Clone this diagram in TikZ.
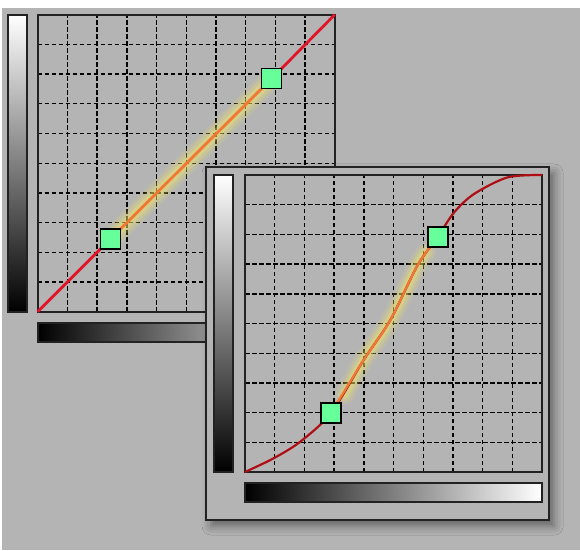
\documentclass[tikz,border=0pt]{standalone}
\usetikzlibrary{shadows.blur}
\definecolor{bggray}{RGB}{180,180,180}
\definecolor{framegray}{RGB}{34,34,34}
\definecolor{linered}{RGB}{225,20,40}
\definecolor{darkred}{RGB}{175,15,20}
\definecolor{curveorange}{RGB}{240,120,50}
\definecolor{glowyellow}{RGB}{245,235,100}
\definecolor{knotgreen}{RGB}{102,255,153}

\begin{document}
\begin{tikzpicture}[x=1pt, y=1pt,
  gridline/.style={black, line width=1.4pt, dash pattern=on 4.5pt off 2.5pt},
  gridframe/.style={framegray, line width=1.8pt},
  knot/.style={rectangle, draw=black, line width=1.5pt, fill=knotgreen,
    minimum size=20pt, inner sep=0pt},
  glow/.style={glowyellow, line cap=round}]
  \useasboundingbox (0,0) rectangle (580,550);
  \fill[white] (0,0) rectangle (580,550);
  \fill[bggray] (2,0) rectangle (580,542);

  % 第一个窗口：直线
  \begin{scope}[shift={(37.7pt,238.3pt)}, x=29.7pt, y=29.7pt]
    \shade[top color=white, bottom color=black] (-1.01,0) rectangle (-0.37,10);
    \draw[gridframe] (-1.01,0) rectangle (-0.37,10);
    \shade[left color=black, right color=white] (0,-1.01) rectangle (10,-0.37);
    \draw[gridframe] (0,-1.01) rectangle (10,-0.37);
    \foreach \i in {1,...,9} {
      \draw[gridline] (\i,0) -- (\i,10);
      \draw[gridline] (0,\i) -- (10,\i);
    }
    \draw[gridframe] (0,0) rectangle (10,10);

    \coordinate (a0) at (0,0);
    \coordinate (a1) at (10,10);
    \coordinate (ka) at (2.45,2.45);
    \coordinate (kb) at (7.88,7.85);
    % 光晕
    \foreach \w/\o in {21/0.14, 15/0.2, 9/0.3}
      \draw[glow, line width=\w pt, opacity=\o, shorten <=8pt, shorten >=8pt] (ka) -- (kb);
    \draw[linered, line width=2.8pt] (a0) -- (ka);
    \draw[linered, line width=2.8pt] (kb) -- (a1);
    \draw[curveorange, line width=2.8pt] (ka) -- (kb);
    \node[knot] (kna) at (ka) {};
    \node[knot] (knb) at (kb) {};
  \end{scope}

  % 第二个窗口：S 形曲线
  \begin{scope}[shift={(245pt,78pt)}, x=29.7pt, y=29.7pt]
    \draw[framegray, line width=2pt, fill=bggray,
      blur shadow={shadow xshift=5pt, shadow yshift=-6pt,
        shadow blur radius=9pt, shadow opacity=45}]
      (-1.31,-1.62) rectangle (10.24,10.27);
    \shade[top color=white, bottom color=black] (-1.04,0) rectangle (-0.40,10);
    \draw[gridframe] (-1.04,0) rectangle (-0.40,10);
    \shade[left color=black, right color=white] (0,-1.01) rectangle (10,-0.37);
    \draw[gridframe] (0,-1.01) rectangle (10,-0.37);
    \foreach \i in {1,...,9} {
      \draw[gridline] (\i,0) -- (\i,10);
      \draw[gridline] (0,\i) -- (10,\i);
    }
    \draw[gridframe] (0,0) rectangle (10,10);

    \coordinate (c0) at (0,0);
    \coordinate (c1) at (10,10);
    \coordinate (kc) at (2.89,1.98);
    \coordinate (kd) at (6.49,7.92);
    % 光晕
    \foreach \w/\o in {19/0.14, 13/0.2, 8/0.3}
      \draw[glow, line width=\w pt, opacity=\o]
        plot[smooth] coordinates {(3.35,2.6) (4.0,3.78) (4.9,5.13) (5.8,6.94) (6.1,7.4)};
    \draw[darkred, line width=2.2pt, line join=round]
      plot[smooth] coordinates {(c0) (0.96,0.46) (1.86,1.02) (kc) (4.0,3.78)
        (4.9,5.13) (5.8,6.94) (kd) (7.04,8.74) (7.71,9.36) (8.84,9.92) (c1)};
    \draw[curveorange, line width=2.2pt]
      plot[smooth] coordinates {(kc) (4.0,3.78) (4.9,5.13) (5.8,6.94) (kd)};
    \node[knot] (knc) at (kc) {};
    \node[knot] (knd) at (kd) {};
  \end{scope}
\end{tikzpicture}
\end{document}
